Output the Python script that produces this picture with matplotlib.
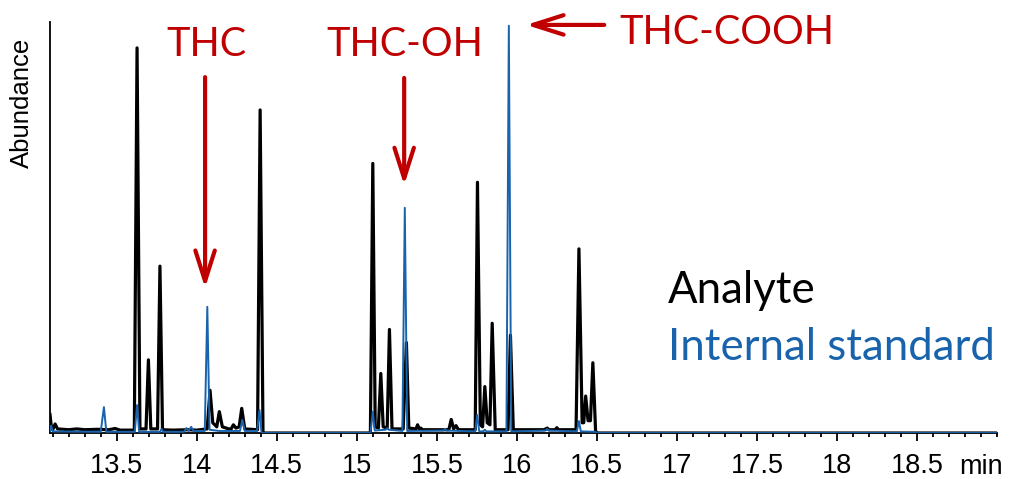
import matplotlib.pyplot as plt
from matplotlib.ticker import FixedLocator, MultipleLocator

# retention time (min) / abundance (% of axis height)
analyte_time = [13.083, 13.09, 13.10, 13.115, 13.13, 13.20, 13.25, 13.30, 13.38, 13.45, 13.49, 13.52,
                13.61, 13.627, 13.645, 13.683, 13.698, 13.713, 13.755, 13.770, 13.786, 13.85, 13.95, 14.0,
                14.065, 14.083, 14.10, 14.125, 14.141, 14.16, 14.2, 14.215, 14.229, 14.245, 14.265, 14.281,
                14.30, 14.38, 14.396, 14.414, 15.085, 15.10, 15.115, 15.135, 15.150, 15.165, 15.19, 15.204,
                15.22, 15.29, 15.31, 15.325, 15.37, 15.38, 15.39, 15.40, 15.41, 15.50, 15.575, 15.59, 15.605,
                15.62, 15.635, 15.74, 15.754, 15.772, 15.786, 15.80, 15.815, 15.832, 15.846, 15.865, 15.945,
                15.96, 15.978, 16.10, 16.17, 16.19, 16.20, 16.24, 16.25, 16.26, 16.37, 16.388, 16.408, 16.418,
                16.43, 16.445, 16.46, 16.475, 16.492, 16.50, 19.0]
analyte_signal = [4.5, 2.0, 0.8, 2.2, 1.0, 0.8, 1.0, 0.8, 0.9, 0.8, 1.1, 0.7,
                  0.7, 93.7, 1.0, 1.0, 17.8, 1.0, 1.0, 40.6, 0.8, 0.7, 0.8, 0.7,
                  1.0, 10.4, 2.5, 1.5, 5.2, 1.5, 1.0, 1.0, 2.0, 1.2, 1.5, 6.0,
                  1.0, 0.8, 78.6, 0.0, 0.0, 65.6, 1.5, 1.2, 14.5, 1.5, 1.2, 25.2,
                  1.0, 1.0, 22.0, 1.2, 1.0, 2.0, 1.0, 1.2, 0.8, 0.8, 0.8, 3.3, 1.0,
                  1.8, 0.8, 0.8, 61.0, 2.0, 1.5, 11.3, 2.5, 2.0, 26.7, 0.8, 0.8,
                  23.8, 0.8, 0.8, 0.8, 1.2, 0.8, 0.8, 1.3, 0.8, 0.8, 44.8, 2.5, 2.5,
                  9.0, 3.0, 3.0, 17.1, 0.5, 0.0, 0.0]

istd_time = [13.083, 13.09, 13.10, 13.40, 13.42, 13.435, 13.613, 13.627, 13.64, 13.77, 13.78, 13.79,
             13.92, 13.935, 13.95, 13.965, 13.98, 14.05, 14.066, 14.08, 14.14, 14.27, 14.285, 14.30,
             14.377, 14.392, 14.405, 15.085, 15.10, 15.112, 15.18, 15.19, 15.20, 15.285, 15.30, 15.315,
             15.54, 15.55, 15.56, 15.74, 15.752, 15.765, 15.79, 15.80, 15.81, 15.935, 15.950, 15.965,
             16.18, 16.19, 16.20, 16.375, 16.388, 16.40, 16.49, 16.50, 19.0]
istd_signal = [0.5, 1.8, 0.4, 0.3, 6.3, 0.3, 0.3, 6.8, 0.3, 0.3, 1.0, 0.3,
               0.3, 1.2, 0.5, 1.5, 0.5, 0.5, 30.7, 0.8, 0.5, 0.5, 3.2, 0.5,
               0.5, 5.6, 0.0, 0.0, 5.2, 0.6, 0.8, 1.2, 0.8, 0.5, 54.8, 0.5,
               0.6, 1.0, 0.6, 0.4, 4.4, 0.4, 0.4, 0.8, 0.4, 0.4, 99.1, 0.4,
               0.6, 1.0, 0.6, 0.4, 2.9, 0.4, 0.3, 0.0, 0.0]

major_ticks = [13.5, 14, 14.5, 15, 15.5, 16, 16.5, 17, 17.5, 18, 18.5]
tick_labels = ['13.5', '14', '14.5', '15', '15.5', '16', '16.5', '17', '17.5', '18', '18.5']

red = '#C00000'
blue = '#1863AC'
tick_font = 'Liberation Sans'
label_font = ['Lato', 'DejaVu Sans']

fig = plt.figure(figsize=(10.14, 4.79), dpi=100)
ax = fig.add_axes([0.0493, 0.096, 0.9339, 0.858])

ax.plot(analyte_time, analyte_signal, color='black', lw=2.3, zorder=2)
ax.plot(istd_time, istd_signal, color=blue, lw=1.4, zorder=3)

ax.set_xlim(13.083, 19.0)
ax.set_ylim(0, 100)
ax.spines['top'].set_visible(False)
ax.spines['right'].set_visible(False)
ax.spines['left'].set_linewidth(1.3)
ax.spines['bottom'].set_linewidth(1.3)
ax.set_yticks([])
ax.xaxis.set_major_locator(FixedLocator(major_ticks))
ax.xaxis.set_minor_locator(MultipleLocator(0.1))
ax.set_xticklabels(tick_labels)
ax.tick_params(axis='x', which='major', length=5.5, width=1.3, pad=9, labelsize=19.5,
               labelfontfamily=tick_font)
ax.tick_params(axis='x', which='minor', length=3, width=1.3)

ax.text(18.9, -0.083, 'min', transform=ax.get_xaxis_transform(), ha='center', va='center',
        fontsize=19.5, family=tick_font)
fig.text(22 / 1014, 1 - 103 / 479, 'Abundance', rotation=90, ha='center', va='center',
         fontsize=18.5, family=tick_font)

arrow = dict(arrowstyle='->,head_length=1.1,head_width=0.35', color=red, lw=3.0,
             shrinkA=0, shrinkB=0, mutation_scale=20)
ax.annotate('', xy=(14.052, 35.3), xytext=(14.052, 86.6), arrowprops=arrow, annotation_clip=False)
ax.annotate('', xy=(15.296, 60.3), xytext=(15.296, 86.4), arrowprops=arrow, annotation_clip=False)
ax.annotate('', xy=(16.058, 99.3), xytext=(16.546, 99.3), arrowprops=arrow, annotation_clip=False)

ax.text(14.06, 94.5, 'THC', color=red, ha='center', va='center', fontsize=28.5, family=label_font, clip_on=False)
ax.text(15.302, 94.5, 'THC-OH', color=red, ha='center', va='center', fontsize=28.5, family=label_font, clip_on=False)
ax.text(17.314, 97.5, 'THC-COOH', color=red, ha='center', va='center', fontsize=28.5, family=label_font, clip_on=False)

ax.text(16.946, 31.6, 'Analyte', color='black', ha='left', va='baseline', fontsize=31.5, family=label_font)
ax.text(16.946, 17.8, 'Internal standard', color=blue, ha='left', va='baseline', fontsize=31.5, family=label_font)

fig.savefig('out.png', dpi=100)
